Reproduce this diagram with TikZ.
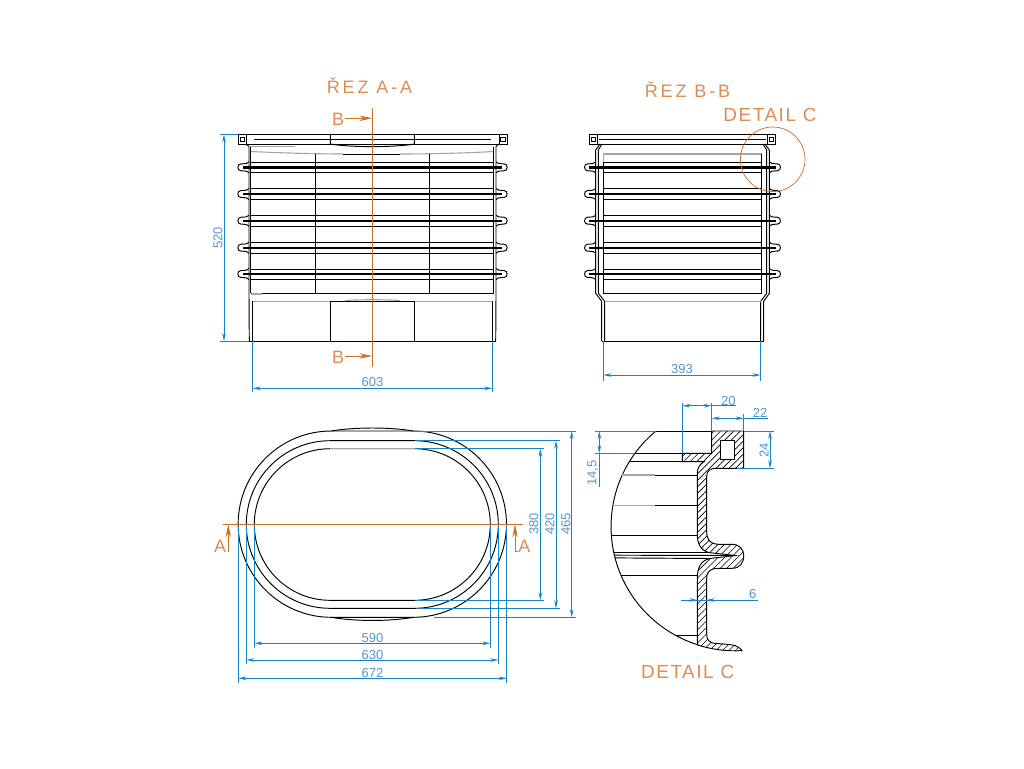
\documentclass[tikz,border=0pt]{standalone}
\usepackage{fontspec}
\setmainfont{Liberation Sans}
\usetikzlibrary{arrows.meta,patterns.meta}
\definecolor{cutorange}{RGB}{208,112,36}
\definecolor{cuttext}{RGB}{222,140,84}
\definecolor{dimblue}{RGB}{24,132,200}
\definecolor{dimtext}{RGB}{84,150,210}
\definecolor{wallgray}{RGB}{165,165,165}
\tikzset{
  part/.style={black, line width=0.95pt},
  ghost/.style={wallgray, line width=1.1pt},
  dimline/.style={dimblue, line width=0.85pt, {Stealth[length=8pt,width=3.6pt]}-{Stealth[length=8pt,width=3.6pt]}},
  dimext/.style={dimblue, line width=0.85pt},
  cutline/.style={cutorange, line width=0.95pt},
  cutarrow/.style={cutorange, line width=0.95pt, -{Stealth[length=13pt,width=5.5pt]}},
  dimlabel/.style={dimtext, inner sep=0pt, font=\fontsize{13}{13}\selectfont},
  cutletter/.style={cuttext, inner sep=0pt, font=\fontsize{18}{18}\selectfont},
  viewtitle/.style={cuttext, inner sep=0pt, font=\fontsize{18}{18}\selectfont\addfontfeature{LetterSpace=16}},
  detailtitle/.style={cuttext, inner sep=0pt, font=\fontsize{19}{19}\selectfont\addfontfeature{LetterSpace=8}},
  ringbump/.pic={
    \draw[part] (0,-5.5) .. controls (-1.5,-4) and (-3,-3.5) .. (-6,-3.5) -- (-8,-3.5) .. controls (-12.2,-3.5) and (-12.2,3.5) .. (-8,3.5) -- (-6,3.5) .. controls (-3,3.5) and (-1.5,4) .. (0,5.5);
  },
  rimcorner/.pic={
    \draw[part] (0,0) rectangle (8,9.7);
    \draw[part] (2.2,2.7) rectangle (6.4,7.5);
  }
}
\begin{document}
\begin{tikzpicture}[x=1pt,y=-1pt]
\fill[white] (0,0) rectangle (1024,768);
\useasboundingbox (0,0) rectangle (1024,768);

% section A-A
\node[viewtitle] (titleAA) at (369.5,86) {ŘEZ A-A};
\pic at (238.3,134.3) {rimcorner};
\pic[xscale=-1] at (507.3,134.3) {rimcorner};
\draw[part] (238.3,134.3) -- (507.3,134.3);
\draw[part] (254,139) -- (491,139);
\draw[part] (246.3,144) -- (499,144);
\draw[part] (330.3,134.3) -- (330.3,144) .. controls (350,147.5) and (395,147.5) .. (414.3,144) -- (414.3,134.3);
\draw[ghost] (250,146.5) -- (295,146.5);
\draw[ghost] (251,151.5) .. controls (280,153) and (320,154) .. (343,154);
\draw[ghost] (400,154) .. controls (430,154) and (470,153) .. (493,151.5);
\draw[part] (343,154) -- (400,154);
\draw[part] (246.3,144) -- (249,146.5) -- (249,296) -- (249.3,341);
\draw[part] (250.7,146.5) -- (250.7,293.3);
\draw[part] (499,144) -- (496,146.5) -- (496,296) -- (495.7,341);
\draw[part] (493.7,146.5) -- (493.7,293.3);
\foreach \y/\t in {167.3/2.8,194/2.8,220.7/2.1,247.7/2.1,274/2.8} {
  \pic at (249,\y) {ringbump};
  \pic[xscale=-1] at (496,\y) {ringbump};
  \draw[black, line width=\t pt] (243,\y) -- (502,\y);
}
\foreach \y in {162.7,172,188.3,199.3,215.7,226,242.7,253,269.7,279.3} {
  \draw[part] (250.7,\y) -- (493.7,\y);
}
\draw[part] (250.7,293.3) -- (493.7,293.3);
\draw[part] (315.3,154) -- (315.3,293.3);
\draw[part] (429.3,154) -- (429.3,293.3);
\draw[ghost] (252.7,301.3) -- (330.3,301.3);
\draw[ghost] (414.3,301.3) -- (492.3,301.3);
\draw[part] (330.3,301.3) -- (414.3,301.3);
\draw[ghost] (345,300.5) .. controls (360,299.5) and (385,299.5) .. (400,300.5);
\draw[ghost] (252,294) -- (262,294);
\draw[part] (252.7,301.3) -- (252.7,341);
\draw[part] (492.3,301.3) -- (492.3,341);
\draw[part] (330.3,301.3) -- (330.3,341);
\draw[part] (414.3,301.3) -- (414.3,341);
\draw[part] (249.3,341) -- (495.7,341);
% cut B-B
\draw[cutline] (372.3,108.3) -- (372.3,367.3);
\draw[cutarrow] (345,118.3) -- (372.3,118.3);
\draw[cutarrow] (345,356) -- (372.3,356);
\node[cutletter] (markBtop) at (338,119) {B};
\node[cutletter] (markBbot) at (338,357) {B};
% dimensions A-A
\draw[dimext] (220,134.3) -- (238.3,134.3);
\draw[dimext] (220,341) -- (249.3,341);
\draw[dimline] (224,134.3) -- (224,341);
\node[dimlabel, rotate=90] (dim520) at (218,238) {520};
\draw[dimext] (252.7,341) -- (252.7,391.7);
\draw[dimext] (492.3,341) -- (492.3,391.7);
\draw[dimline] (252.7,388.3) -- (492.3,388.3);
\node[dimlabel] (dim603) at (372.5,382) {603};

% section B-B
\node[viewtitle] (titleBB) at (687.5,90) {ŘEZ B-B};
\pic at (589.3,134.3) {rimcorner};
\pic[xscale=-1] at (775.7,134.3) {rimcorner};
\draw[part] (589.3,134.3) -- (775.7,134.3);
\draw[part] (599.3,139) -- (765.7,139);
\draw[part] (597.3,144) -- (767.7,144);
\draw[part] (600,144) -- (595.7,150) -- (595.7,293.3) -- (601.7,301.3) -- (601.7,341);
\draw[part] (602,144) -- (598.3,150) -- (598.3,293.3) -- (604.7,301.3) -- (604.7,341);
\draw[part] (765,144) -- (769.3,150) -- (769.3,293.3) -- (763.7,301.3) -- (763.7,341);
\draw[part] (763,144) -- (766.7,150) -- (766.7,293.3) -- (760.7,301.3) -- (760.7,341);
\draw[ghost] (603.3,154) -- (761.7,154);
\draw[ghost] (603.3,154) -- (603.3,293.3);
\draw[part] (761.7,154) -- (761.7,293.3);
\draw[part] (603.3,162.7) -- (603.3,293.3);
\foreach \y/\t in {167.3/2.8,194/2.8,220.7/2.1,247.7/2.1,274/2.8} {
  \pic at (595.7,\y) {ringbump};
  \pic[xscale=-1] at (769.3,\y) {ringbump};
  \draw[black, line width=\t pt] (589,\y) -- (776,\y);
}
\foreach \y in {162.7,172,188.3,199.3,215.7,226,242.7,253,269.7,279.3,293.3} {
  \draw[part] (603.3,\y) -- (761.7,\y);
}
\draw[ghost] (604.7,301.3) -- (760.7,301.3);
\draw[part] (601.7,341) -- (763.7,341);
\draw[cutline, line width=0.7pt] (772.7,159.3) circle[radius=32.3];
\node[detailtitle] (detailmark) at (770,115) {DETAIL C};
\draw[dimext] (603.3,341) -- (603.3,380.7);
\draw[dimext] (760.7,341) -- (760.7,380.7);
\draw[dimline] (603.3,375) -- (760.7,375);
\node[dimlabel] (dim393) at (682,369) {393};

% plan view
\draw[part] (331.3,431) -- (413.3,431) arc[start angle=-90,end angle=90,radius=93.15] -- (331.3,617.3) arc[start angle=90,end angle=270,radius=93.15] -- cycle;
\draw[part] (331.3,431) .. controls (355,427) and (390,427) .. (413.3,431);
\draw[part] (331.3,617.3) .. controls (355,621.5) and (390,621.5) .. (413.3,617.3);
\draw[part] (330.1,440.7) -- (414.5,440.7) arc[start angle=-90,end angle=90,radius=83.8] -- (330.1,608.3) arc[start angle=90,end angle=270,radius=83.8] -- cycle;
\draw[part] (330.1,448.7) -- (414.5,448.7) arc[start angle=-90,end angle=90,radius=75.8] -- (330.1,600.3) arc[start angle=90,end angle=270,radius=75.8] -- cycle;
\draw[ghost, white, line width=1.4pt] (330.1,448.7) -- (414.5,448.7);
\draw[ghost] (330.1,448.7) -- (414.5,448.7);
% cut A-A
\draw[cutline] (222.7,524.3) -- (522.7,524.3);
\draw[cutarrow] (228.3,551.7) -- (228.3,524.3);
\draw[cutarrow] (515,551.7) -- (515,524.3);
\draw[cutline] (515,551.7) -- (518,551.7);
\node[cutletter] (markAleft) at (220,546) {A};
\node[cutletter] (markAright) at (524.3,546) {A};
% dimensions plan
\draw[dimext] (413,431) -- (576,431);
\draw[dimext] (434,617.3) -- (576,617.3);
\draw[dimline] (571.7,431) -- (571.7,617.3);
\node[dimlabel, rotate=90] (dim465) at (566,524) {465};
\draw[dimext] (415,440.7) -- (560,440.7);
\draw[dimext] (419,608.3) -- (560,608.3);
\draw[dimline] (556,440.7) -- (556,608.3);
\node[dimlabel, rotate=90] (dim420) at (550,524) {420};
\draw[dimext] (415,448.7) -- (544,448.7);
\draw[dimext] (415,600.3) -- (544,600.3);
\draw[dimline] (540.3,448.7) -- (540.3,600.3);
\node[dimlabel, rotate=90] (dim380) at (534,524) {380};
\draw[dimext] (254.3,524.5) -- (254.3,647.7);
\draw[dimext] (490.3,524.5) -- (490.3,647.7);
\draw[dimline] (254.3,643.3) -- (490.3,643.3);
\node[dimlabel] (dim590) at (372.5,637.7) {590};
\draw[dimext] (246.3,524.5) -- (246.3,664.3);
\draw[dimext] (498.3,524.5) -- (498.3,664.3);
\draw[dimline] (246.3,660) -- (498.3,660);
\node[dimlabel] (dim630) at (372.5,654.7) {630};
\draw[dimext] (238.3,524.5) -- (238.3,682.7);
\draw[dimext] (506.7,524.5) -- (506.7,682.7);
\draw[dimline] (238.3,678.3) -- (506.7,678.3);
\node[dimlabel] (dim672) at (372.5,672.7) {672};

% detail C
\draw[part, pattern={Lines[angle=45,distance=4.6pt,line width=0.6pt]}] (711.7,431) -- (743.7,431) -- (743.7,468.3) -- (716,468.3) .. controls (710,468.3) and (706.7,471) .. (706.7,476) -- (706.7,532) .. controls (706.7,540) and (711,544.3) .. (718,544.3) -- (732,544.3) .. controls (740,544.3) and (743.7,550) .. (743.7,555.5) .. controls (743.7,563) and (740,568.3) .. (732,568.3) -- (718,568.3) .. controls (711,568.3) and (706.7,571) .. (706.7,578) -- (706.7,634) .. controls (706.7,640) and (709,643) .. (716,643.5) .. controls (725,644) and (730,644.5) .. (735,645.5) .. controls (738,646.5) and (741,649) .. (742,650.6) arc[start angle=86.8,end angle=107.4,radius=124] -- (697.3,642) -- (697.3,578) .. controls (697.3,568) and (701,560) .. (710,558.5) -- (735,555.5) -- (710,552.7) .. controls (701,551) and (697.3,544) .. (697.3,535) -- (697.3,473.3) .. controls (697.3,468) and (700,464) .. (704,461.7) -- (682.3,461.7) -- (682.3,453.3) -- (711.7,453.3) -- cycle;
\draw[part, fill=white] (720.3,440.7) rectangle (734.3,459.3);
\draw[part] (656,431) arc[start angle=230.4,end angle=107.4,radius=124];
\draw[part] (656,431) -- (711.7,431);
\draw[part] (635,453.3) -- (682.3,453.3);
\draw[part] (629.3,461.7) -- (682.3,461.7);
\draw[ghost] (622,475) -- (655,475);
\draw[part] (655,475) -- (697.3,475);
\draw[ghost] (612.8,505.7) -- (655,505.7);
\draw[part] (655,505.7) -- (697.3,505.7);
\draw[part] (611.3,535) -- (697.3,535);
\draw[part] (613.8,552.7) -- (710,552.7);
\draw[part] (614.3,555.2) -- (735,555.5);
\draw[part] (615,557.9) -- (710,558.5);
\draw[part] (620.8,575) -- (697.3,575);
\draw[part] (675.3,635.3) -- (697.3,635.3);
\node[detailtitle] (detailtitle) at (687.7,672.3) {DETAIL C};
% dimensions detail
\draw[dimext] (682.3,402.7) -- (682.3,453.3);
\draw[dimext] (711.7,402.7) -- (711.7,431);
\draw[dimext] (711.7,405.7) -- (736,405.7);
\draw[dimline] (682.3,405.7) -- (711.7,405.7);
\node[dimlabel] (dim20) at (728.3,400.7) {20};
\draw[dimext] (743.7,414) -- (743.7,431);
\draw[dimext] (743.7,418.3) -- (768.3,418.3);
\draw[dimline] (711.7,418.3) -- (743.7,418.3);
\node[dimlabel] (dim22) at (760,412.7) {22};
\draw[dimext] (743.7,431) -- (774,431);
\draw[dimext] (736.7,468.3) -- (774,468.3);
\draw[dimline] (770,431) -- (770,468.3);
\node[dimlabel, rotate=90] (dim24) at (764,450) {24};
\draw[dimext] (595,431) -- (656,431);
\draw[dimext] (595,453.3) -- (635,453.3);
\draw[dimext] (599.3,453.3) -- (599.3,487.3);
\draw[dimline] (599.3,431) -- (599.3,453.3);
\node[dimlabel, rotate=90] (dim145) at (592.7,473.3) {14,5};
\draw[dimext] (681,600) -- (757.7,600);
\draw[dimblue, line width=0.85pt, -{Stealth[length=8pt,width=3.6pt]}] (689,600) -- (697.3,600);
\draw[dimblue, line width=0.85pt, -{Stealth[length=8pt,width=3.6pt]}] (715,600) -- (706.7,600);
\node[dimlabel] (dim6) at (752.7,594.3) {6};
\end{tikzpicture}
\end{document}
